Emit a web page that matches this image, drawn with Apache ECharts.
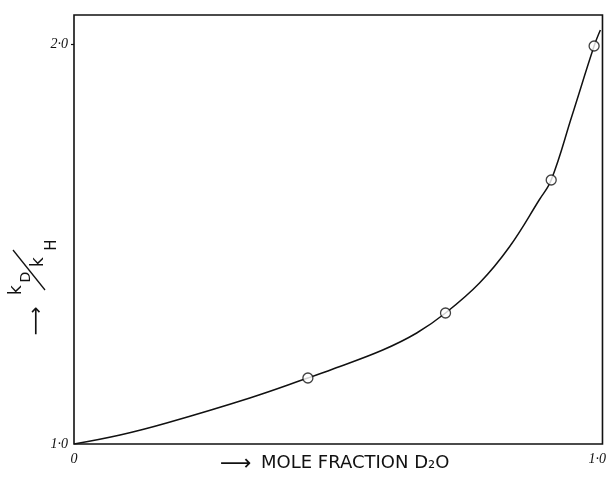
<!DOCTYPE html>
<html>
<head>
<meta charset="utf-8">
<script src="https://cdn.jsdelivr.net/npm/echarts@6/dist/echarts.min.js"></script>
<style>
html,body{margin:0;padding:0;background:#fff;}
#chart{width:609px;height:485px;}
</style>
</head>
<body>
<div id="chart"></div>
<script>
// Measured data points (mole fraction D2O, kD/kH)
const pointX = [0.447, 0.710, 0.912, 0.994];
const pointY = [1.165, 1.3275, 1.66, 1.995];
// Hand-drawn fitted curve
const curveX = [0, 0.088, 0.177, 0.336, 0.447, 0.495, 0.590, 0.655, 0.710, 0.775, 0.832, 0.889, 0.912, 0.952, 0.994, 1.006];
const curveY = [1.0, 1.0225, 1.0525, 1.115, 1.165, 1.1875, 1.235, 1.2775, 1.3275, 1.4025, 1.4925, 1.61, 1.66, 1.822, 1.995, 2.035];
// Tick labels
const xTickValues = [0, 1];
const xTickLabels = ['0', '1·0'];
const yTickValues = [1, 2];
const yTickLabels = ['1·0', '2·0'];

const chart = echarts.init(document.getElementById('chart'), null, {renderer: 'canvas'});
const tickFont = {fontFamily: 'Liberation Serif', fontStyle: 'italic', fontSize: 14, color: '#111'};

const option = {
  backgroundColor: '#fff',
  animation: false,
  grid: {left: 74, right: 6, top: 15, bottom: 41, show: true, borderColor: '#111', borderWidth: 1.6, backgroundColor: 'transparent'},
  xAxis: {
    type: 'value', min: 0, max: 1.01,
    axisLine: {show: false},
    splitLine: {show: false},
    axisTick: {show: false},
    axisLabel: Object.assign({
      customValues: xTickValues,
      formatter: v => xTickLabels[xTickValues.indexOf(Math.round(v * 100) / 100)] || '',
      margin: 8
    }, tickFont)
  },
  yAxis: {
    type: 'value', min: 1, max: 2.0725,
    axisLine: {show: false},
    splitLine: {show: false},
    axisTick: {show: true, customValues: [2], length: 3, lineStyle: {color: '#111', width: 1.2}},
    axisLabel: Object.assign({
      customValues: yTickValues,
      formatter: v => yTickLabels[yTickValues.indexOf(Math.round(v * 100) / 100)] || '',
      margin: 6
    }, tickFont)
  },
  series: [
    {
      type: 'line',
      data: curveX.map((x, i) => [x, curveY[i]]),
      smooth: 0.4,
      showSymbol: false,
      lineStyle: {color: '#111', width: 1.5},
      z: 2
    },
    {
      type: 'scatter',
      data: pointX.map((x, i) => [x, pointY[i]]),
      symbol: 'circle',
      symbolSize: 10,
      itemStyle: {color: '#fff', borderColor: '#111', borderWidth: 1.3},
      z: 3
    }
  ],
  graphic: [
    // x-axis title
    {type: 'text', left: 220, top: 453, style: {text: '⟶', fontFamily: 'DejaVu Sans', fontSize: 22, fill: '#111'}},
    {type: 'text', left: 261, top: 454, style: {text: 'MOLE FRACTION D₂O', fontFamily: 'DejaVu Sans', fontSize: 18, fill: '#111'}},
    // y-axis title (rotated)
    {type: 'text', x: 17, y: 290, rotation: Math.PI / 2, style: {text: 'k', fontFamily: 'DejaVu Sans', fontSize: 17, fill: '#111', align: 'center', verticalAlign: 'middle'}},
    {type: 'text', x: 26, y: 277, rotation: Math.PI / 2, style: {text: 'D', fontFamily: 'DejaVu Sans', fontSize: 14, fill: '#111', align: 'center', verticalAlign: 'middle'}},
    {type: 'line', shape: {x1: 13, y1: 250, x2: 45, y2: 290}, style: {stroke: '#111', lineWidth: 1.3}},
    {type: 'text', x: 39, y: 262, rotation: Math.PI / 2, style: {text: 'k', fontFamily: 'DejaVu Sans', fontSize: 17, fill: '#111', align: 'center', verticalAlign: 'middle'}},
    {type: 'text', x: 52, y: 245, rotation: Math.PI / 2, style: {text: 'H', fontFamily: 'DejaVu Sans', fontSize: 15, fill: '#111', align: 'center', verticalAlign: 'middle'}},
    {type: 'text', x: 37, y: 321, rotation: Math.PI / 2, style: {text: '⟶', fontFamily: 'DejaVu Sans', fontSize: 20, fill: '#111', align: 'center', verticalAlign: 'middle'}}
  ]
};
chart.setOption(option);
</script>
</body>
</html>
